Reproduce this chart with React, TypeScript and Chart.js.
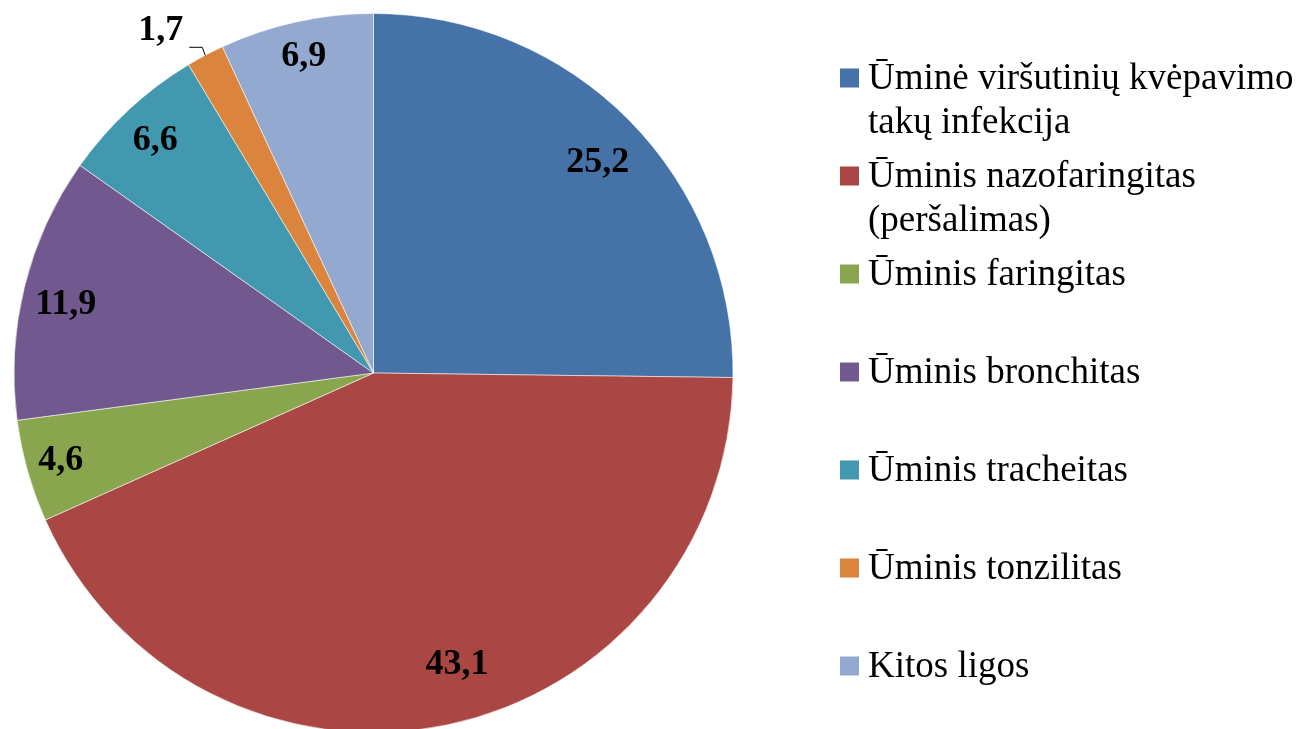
import React, { useEffect, useRef } from "react";
import { Chart, registerables } from "chart.js";

Chart.register(...registerables);

const categories: string[][] = [
  ["Ūminė viršutinių kvėpavimo", "takų infekcija"],
  ["Ūminis nazofaringitas", "(peršalimas)"],
  ["Ūminis faringitas"],
  ["Ūminis bronchitas"],
  ["Ūminis tracheitas"],
  ["Ūminis tonzilitas"],
  ["Kitos ligos"],
];
const values: number[] = [25.2, 43.1, 4.6, 11.9, 6.6, 1.7, 6.9];
const valueLabels: string[] = ["25,2", "43,1", "4,6", "11,9", "6,6", "1,7", "6,9"];
const colors: string[] = ["#4572A7", "#AA4643", "#89A54E", "#71588F", "#4198AF", "#DB843D", "#93A9CF"];

// style: placement of value labels (fraction of radius; >1 means outside with leader)
const labelRadius: number[] = [0.856, 0.844, 0.903, 0.877, 0.887, 1.1, 0.902];
// style: angular position of value label within its slice (0..1)
const labelT: number[] = [0.516, 0.4725, 0.514, 0.47, 0.485, 0.5, 0.5];

const labelPlugin = {
  id: "valueLabels",
  afterDatasetsDraw(chart: any) {
    const ctx = chart.ctx;
    const meta = chart.getDatasetMeta(0);
    ctx.save();
    ctx.font = "bold 36px 'Liberation Serif', 'Times New Roman', serif";
    ctx.fillStyle = "#000";
    ctx.textBaseline = "middle";
    meta.data.forEach((arc: any, i: number) => {
      const p = arc.getProps(["x", "y", "startAngle", "endAngle", "outerRadius"], true);
      const f = labelRadius[i];
      if (f <= 1) {
        const a = p.startAngle + (p.endAngle - p.startAngle) * labelT[i];
        ctx.textAlign = "center";
        ctx.fillText(valueLabels[i], p.x + Math.cos(a) * p.outerRadius * f, p.y + Math.sin(a) * p.outerRadius * f);
      } else {
        const mid = (p.startAngle + p.endAngle) / 2;
        const ex = p.x + Math.cos(mid) * p.outerRadius;
        const ey = p.y + Math.sin(mid) * p.outerRadius;
        ctx.strokeStyle = "#000";
        ctx.lineWidth = 1;
        ctx.beginPath();
        ctx.moveTo(ex, ey);
        ctx.lineTo(ex - 3, ey - 8);
        ctx.lineTo(ex - 16, ey - 8);
        ctx.stroke();
        ctx.textAlign = "right";
        ctx.fillText(valueLabels[i], ex - 22, ey - 25);
      }
    });
    ctx.restore();
  },
};

const legendPlugin = {
  id: "sideLegend",
  afterDraw(chart: any) {
    const ctx = chart.ctx;
    ctx.save();
    ctx.font = "37px 'Liberation Serif', 'Times New Roman', serif";
    ctx.textBaseline = "middle";
    ctx.textAlign = "left";
    const boxX = 840;
    const textX = 868;
    const top = 78;
    const step = 98;
    const lineH = 44;
    categories.forEach((lines, i) => {
      const cy = top + i * step;
      ctx.fillStyle = colors[i];
      ctx.fillRect(boxX, cy - 9.5, 19, 19);
      ctx.fillStyle = "#000";
      lines.forEach((ln, j) => {
        ctx.fillText(ln, textX, cy + j * lineH + 1);
      });
    });
    ctx.restore();
  },
};

export default function App() {
  const ref = useRef<HTMLCanvasElement>(null);
  useEffect(() => {
    if (!ref.current) return;
    const chart = new Chart(ref.current, {
      type: "pie",
      data: {
        labels: categories,
        datasets: [
          {
            data: values,
            backgroundColor: colors,
            borderColor: "rgba(255,255,255,0.55)",
            borderWidth: 1,
          },
        ],
      },
      options: {
        responsive: false,
        animation: false,
        layout: { padding: { left: 13, top: 13, right: 567, bottom: 7 } },
        plugins: {
          legend: { display: false },
          tooltip: { enabled: false },
        },
      },
      plugins: [labelPlugin, legendPlugin],
    });
    return () => chart.destroy();
  }, []);
  return (
    <div style={{ position: "absolute", left: 0, top: 0, width: 1301, height: 740, background: "#fff" }}>
      <canvas ref={ref} width={1301} height={740} style={{ display: "block" }} />
    </div>
  );
}
